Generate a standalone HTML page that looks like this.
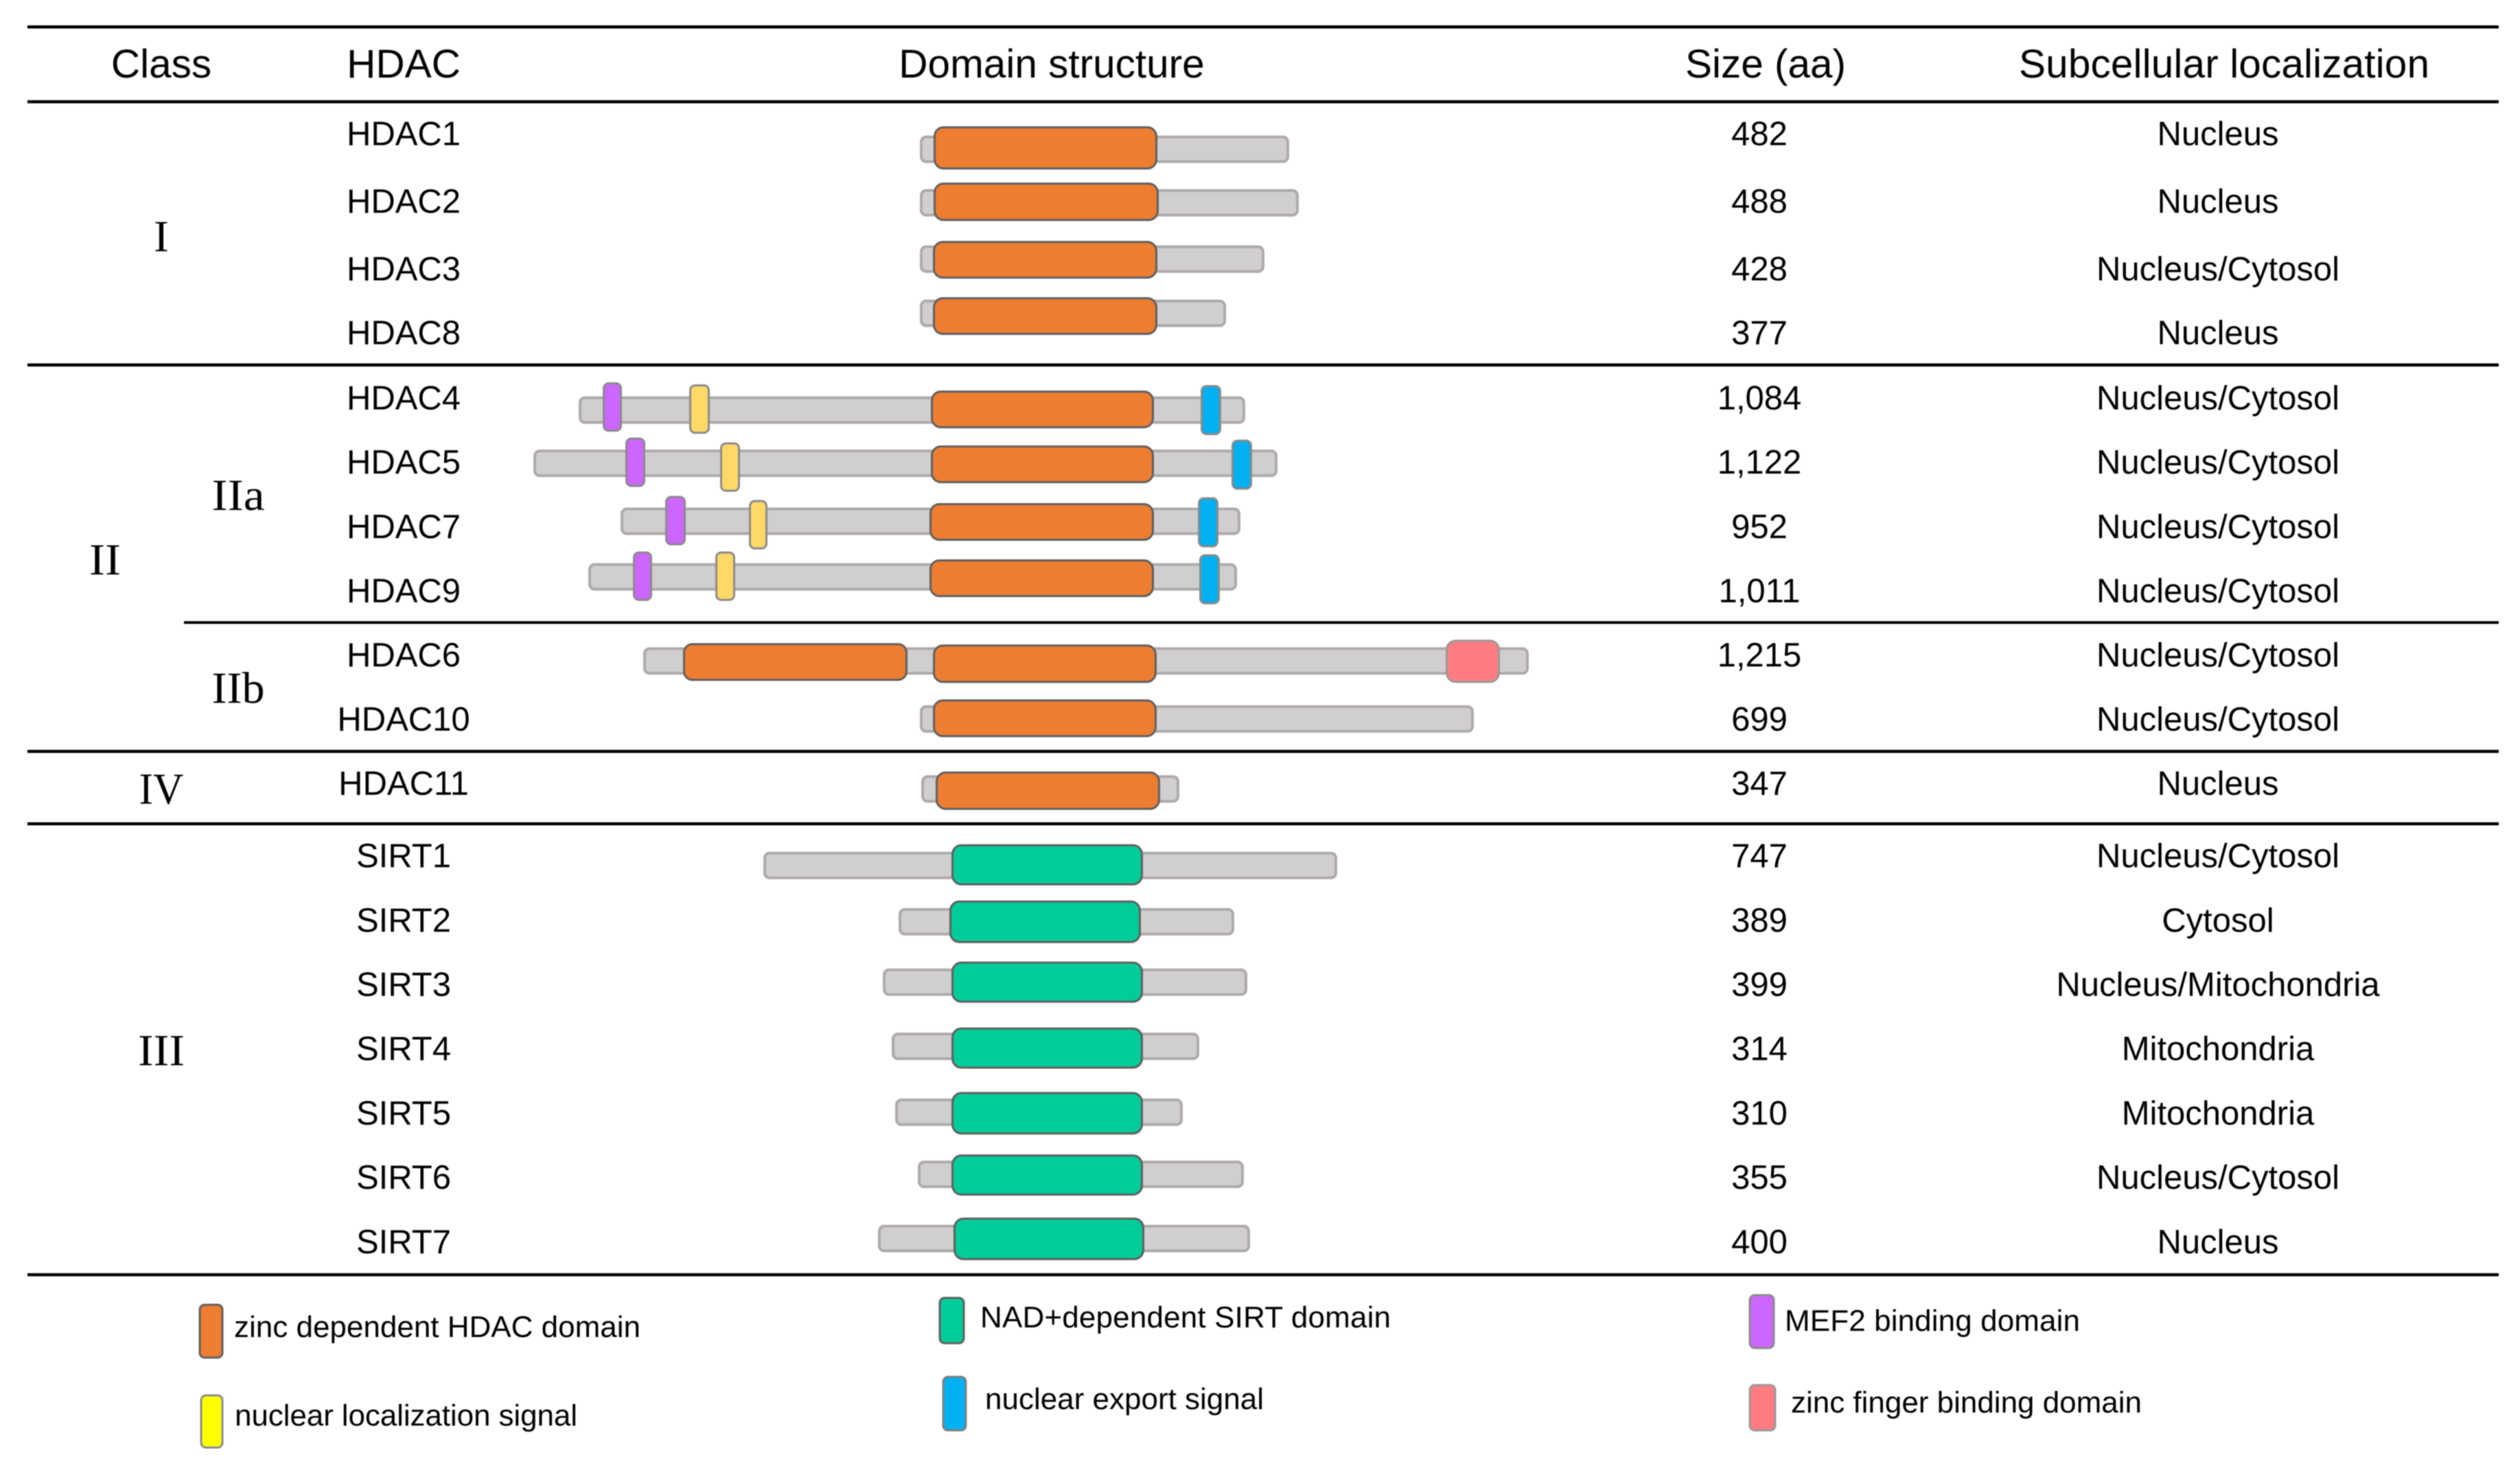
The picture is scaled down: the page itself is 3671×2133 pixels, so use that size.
<!DOCTYPE html>
<html lang="en">
<head>
<meta charset="utf-8">
<title>HDAC classes and domain structure</title>
<style>
html,body{margin:0;padding:0;background:#fff;width:3671px;height:2133px;overflow:hidden}
svg{display:block;filter:blur(.9px)}
text{fill:#000;font-family:"Liberation Sans",Arial,sans-serif}
.hdr{font-size:58.5px;text-anchor:middle}
.cell{font-size:49px;text-anchor:middle}
.cls{font-family:"Liberation Serif","Times New Roman",serif;font-size:65px;text-anchor:middle}
.leg{font-size:44px}
.rule{fill:#000}
</style>
</head>
<body>
<svg id="chart" xmlns="http://www.w3.org/2000/svg" width="3671" height="2133" viewBox="0 0 3671 2133">
  <rect x="0" y="0" width="3671" height="2133" fill="#fff"/>

  <rect class="rule" x="40" y="37" width="3600" height="4.5"/>
  <rect class="rule" x="40" y="146" width="3600" height="4.5"/>
  <rect class="rule" x="40" y="529.5" width="3600" height="4.5"/>
  <rect class="rule" x="268" y="905" width="3372" height="4"/>
  <rect class="rule" x="40" y="1092.5" width="3600" height="4.5"/>
  <rect class="rule" x="40" y="1198" width="3600" height="4.5"/>
  <rect class="rule" x="40" y="1855" width="3600" height="4.5"/>

  <text class="hdr" x="235" y="113">Class</text>
  <text class="hdr" x="588" y="113">HDAC</text>
  <text class="hdr" x="1532" y="113">Domain structure</text>
  <text class="hdr" x="2572" y="113">Size (aa)</text>
  <text class="hdr" x="3240" y="113" textLength="598" lengthAdjust="spacing">Subcellular localization</text>

  <text class="cls" x="235" y="366">I</text>
  <text class="cls" x="153" y="837" textLength="46" lengthAdjust="spacingAndGlyphs">II</text>
  <text class="cls" x="347" y="743" textLength="77" lengthAdjust="spacingAndGlyphs">IIa</text>
  <text class="cls" x="347" y="1024" textLength="77" lengthAdjust="spacingAndGlyphs">IIb</text>
  <text class="cls" x="235" y="1171" textLength="65" lengthAdjust="spacingAndGlyphs">IV</text>
  <text class="cls" x="235" y="1552" textLength="68" lengthAdjust="spacingAndGlyphs">III</text>

  <g id="tracks"></g>
  <g id="cells"></g>

  <g>
    <rect x="291" y="1901" width="33" height="77" rx="7" fill="#ed7d31" stroke="#5f5f5f" stroke-width="3"/>
    <text class="leg" x="341" y="1948" textLength="592" lengthAdjust="spacing">zinc dependent HDAC domain</text>
    <rect x="293" y="2033" width="31" height="76" rx="7" fill="#ffff00" stroke="#8a8a8a" stroke-width="3"/>
    <text class="leg" x="342" y="2077" textLength="499" lengthAdjust="spacing">nuclear localization signal</text>
    <rect x="1369" y="1891" width="35" height="66" rx="7" fill="#00cc99" stroke="#5f5f5f" stroke-width="3"/>
    <text class="leg" x="1428" y="1934" textLength="598" lengthAdjust="spacing">NAD+dependent SIRT domain</text>
    <rect x="1374" y="2006" width="33" height="78" rx="7" fill="#00b0f0" stroke="#7f7f7f" stroke-width="3"/>
    <text class="leg" x="1435" y="2053" textLength="406" lengthAdjust="spacing">nuclear export signal</text>
    <rect x="2549" y="1887" width="35" height="77" rx="7" fill="#cc66ff" stroke="#8a8a8a" stroke-width="3"/>
    <text class="leg" x="2600" y="1939" textLength="430" lengthAdjust="spacing">MEF2 binding domain</text>
    <rect x="2549" y="2018" width="37" height="66" rx="7" fill="#ff7c80" stroke="#999" stroke-width="3"/>
    <text class="leg" x="2609" y="2058" textLength="511" lengthAdjust="spacing">zinc finger binding domain</text>
  </g>
</svg>
<script>
// Table contents
const names = ['HDAC1','HDAC2','HDAC3','HDAC8','HDAC4','HDAC5','HDAC7','HDAC9','HDAC6','HDAC10','HDAC11','SIRT1','SIRT2','SIRT3','SIRT4','SIRT5','SIRT6','SIRT7'];
const sizes = ['482','488','428','377','1,084','1,122','952','1,011','1,215','699','347','747','389','399','314','310','355','400'];
const localization = ['Nucleus','Nucleus','Nucleus/Cytosol','Nucleus','Nucleus/Cytosol','Nucleus/Cytosol','Nucleus/Cytosol','Nucleus/Cytosol','Nucleus/Cytosol','Nucleus/Cytosol','Nucleus','Nucleus/Cytosol','Cytosol','Nucleus/Mitochondria','Mitochondria','Mitochondria','Nucleus/Cytosol','Nucleus'];

// Schematic aligned residue coordinates
const trackStart = [563,563,563,563,66,0,127,80,160,563,565,335,532,509,522,527,560,502];
const trackEnd = [1101,1115,1065,1009,1037,1084,1030,1025,1450,1370,941,1171,1021,1040,970,946,1035,1044];
const catalyticStart = [583,583,582,582,579,579,577,577,582,582,586,609,606,609,609,609,609,612];
const catalyticEnd = [909,911,909,909,904,904,904,904,908,908,913,888,885,888,888,888,888,890];
const catalyticType = ['hdac','hdac','hdac','hdac','hdac','hdac','hdac','hdac','hdac','hdac','hdac','sirt','sirt','sirt','sirt','sirt','sirt','sirt'];
const mef2Start = [null,null,null,null,101,134,192,145];
const mef2End = [null,null,null,null,129,163,222,173];
const nlsStart = [null,null,null,null,227,272,314,265];
const nlsEnd = [null,null,null,null,257,301,341,294];
const nesStart = [null,null,null,null,972,1017,968,970];
const nesEnd = [null,null,null,null,1002,1047,998,1000];
const hdac6SecondDomain = [218,545];
const hdac6ZincFinger = [1329,1408];

// Hand-drawn vertical misalignment of each row in the schematic
const trackNudge = [5.9,-13.4,-28.7,-47,.9,-15.2,-24.3,-36.9,-8,-17.1,-8.7,-2.6,-14.3,-20,-20.2,-17.9,-21.1,-21.3];
const catalyticNudge = [-2,-1.5,1,4,-1,1.5,1,2,4,-1,2.5,-1,0,0,2.5,1.5,1,.5];
const catalyticHeight = [63,56,55,55,55,55,55,55,56,55,56,60,62,60,60,62,60,62];
const mef2Nudge = [0,0,0,0,-4.5,-1.5,-1,-1];
const nlsNudge = [0,0,0,0,-1.5,5.5,5,-1];
const nesNudge = [0,0,0,0,0,2,1.5,3.5];
const labelNudge = [0,1,2.5,-2,0,0,0,0,0,0,0,0,0,0,0,0,0,0];

const NS = 'http://www.w3.org/2000/svg';
const tracksLayer = document.getElementById('tracks');
const cellsLayer = document.getElementById('cells');

function xScale(residue){ return 777 + residue; }
function rowBaseline(i){
  if(i < 4) return 211.6 + 97.3 * i;
  if(i < 11) return 596.6 + 93.6 * (i - 4);
  return 1263.6 + 93.7 * (i - 11);
}
function trackCenter(i){ return rowBaseline(i) + trackNudge[i]; }

function drawBox(start, end, cy, h, rx, fill, stroke, sw, name){
  const el = document.createElementNS(NS, 'rect');
  el.setAttribute('x', xScale(start) + sw / 2);
  el.setAttribute('y', cy - h / 2 + sw / 2);
  el.setAttribute('width', xScale(end) - xScale(start) - sw);
  el.setAttribute('height', h - sw);
  el.setAttribute('rx', rx);
  el.setAttribute('fill', fill);
  el.setAttribute('stroke', stroke);
  el.setAttribute('stroke-width', sw);
  
  
  tracksLayer.appendChild(el);
}
function drawCell(x, y, value, name){
  const el = document.createElementNS(NS, 'text');
  el.setAttribute('class', 'cell');
  el.setAttribute('x', x);
  el.setAttribute('y', y);
  
  
  el.textContent = value;
  cellsLayer.appendChild(el);
}

names.forEach(function(n, i){
  const key = n.toLowerCase();
  const cy = trackCenter(i);
  drawBox(trackStart[i], trackEnd[i], cy, 40, 7, '#d0cece', '#aeaaaa', 4, key + '-protein-track');
  if(n === 'HDAC6'){
    drawBox(hdac6SecondDomain[0], hdac6SecondDomain[1], cy + 1.5, 55, 12, '#ed7d31', '#5f5f5f', 3, key + '-n-terminal-hdac-domain');
  }
  const cat = catalyticType[i] === 'hdac' ? '#ed7d31' : '#00cc99';
  drawBox(catalyticStart[i], catalyticEnd[i], cy + catalyticNudge[i], catalyticHeight[i], 13, cat, '#5f5f5f', 3, key + '-catalytic-domain');
  if(mef2Start[i] !== null && mef2Start[i] !== undefined){
    drawBox(mef2Start[i], mef2End[i], cy + mef2Nudge[i], 72, 7, '#cc66ff', '#8a8a8a', 3, key + '-mef2-domain');
    drawBox(nlsStart[i], nlsEnd[i], cy + nlsNudge[i], 72, 7, '#ffd966', '#8a8a8a', 3, key + '-nls');
    drawBox(nesStart[i], nesEnd[i], cy + nesNudge[i], 73, 7, '#00b0f0', '#8a8a8a', 3, key + '-nes');
  }
  if(n === 'HDAC6'){
    drawBox(hdac6ZincFinger[0], hdac6ZincFinger[1], cy + .5, 63, 13, '#ff7c80', '#999999', 3, key + '-zinc-finger-domain');
  }
  drawCell(588, rowBaseline(i) + labelNudge[i], n, key + '-name');
  drawCell(2563, rowBaseline(i) + labelNudge[i], sizes[i], key + '-size');
  drawCell(3231, rowBaseline(i) + labelNudge[i], localization[i], key + '-localization');
});
</script>
</body>
</html>
